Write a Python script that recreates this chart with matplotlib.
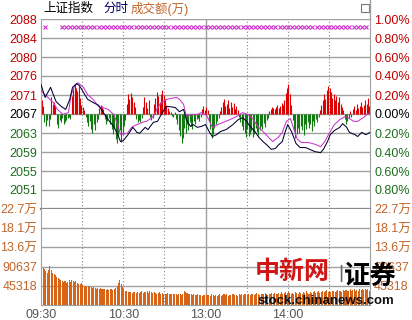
import matplotlib
matplotlib.use("Agg")
import matplotlib.pyplot as plt

plt.rcParams['font.family'] = ['Liberation Sans', 'Noto Sans CJK SC']

# previous close and price axis
prev_close = 2067.3
pct_ticks = [-0.8, -0.6, -0.4, -0.2, 0.0, 0.2, 0.4, 0.6, 0.8, 1.0]

# index line (minute, price)
idx_min = [0, 3, 5, 7, 9, 11, 15, 18, 21, 23, 26, 28, 32, 34, 38, 42, 45, 49, 53, 56, 58, 60, 63, 65,
           67, 70, 72, 76, 78, 82, 85, 87, 89, 91, 94, 98, 101, 104, 106, 109, 111, 114, 117, 120,
           123, 125, 128, 131, 135, 140, 144, 147, 150, 152, 156, 159, 162, 165, 168, 171, 173,
           176, 178, 180, 183, 186, 189, 193, 196, 200, 204, 206, 209, 211, 214, 218, 220, 223,
           225, 229, 231, 234, 237, 240]
idx_val = [2073.7, 2070.9, 2072.0, 2073.1, 2071.5, 2070.0, 2068.9, 2068.3, 2070.5, 2073.1, 2073.9,
           2073.5, 2071.5, 2070.5, 2069.8, 2069.2, 2067.8, 2066.1, 2064.6, 2062.8, 2061.3, 2061.5,
           2062.6, 2063.5, 2064.4, 2063.3, 2063.1, 2064.4, 2063.9, 2065.5, 2065.7, 2066.8, 2067.8,
           2068.9, 2068.9, 2068.7, 2067.8, 2068.3, 2066.1, 2064.6, 2065.0, 2064.4, 2064.6, 2065.0,
           2063.3, 2062.4, 2062.8, 2063.5, 2063.9, 2065.0, 2066.1, 2066.5, 2065.7, 2064.8, 2063.5,
           2062.2, 2061.3, 2060.5, 2059.6, 2059.8, 2060.5, 2061.3, 2063.3, 2065.0, 2063.3, 2060.9,
           2060.0, 2060.0, 2059.6, 2059.1, 2058.9, 2059.6, 2061.3, 2062.8, 2063.7, 2064.4, 2065.2,
           2064.4, 2063.3, 2062.8, 2062.4, 2063.3, 2062.8, 2063.3]

# unweighted index line (minute, price)
lead_min = [0, 5, 9, 12, 16, 20, 22, 25, 27, 31, 34, 38, 42, 45, 49, 53, 56, 58, 63, 66, 70, 74, 77,
            81, 83, 85, 88, 92, 95, 99, 101, 104, 106, 110, 114, 117, 121, 125, 129, 133, 138, 143,
            147, 151, 155, 158, 162, 166, 169, 173, 176, 179, 182, 184, 187, 190, 195, 200, 204,
            207, 211, 214, 218, 222, 224, 228, 231, 235, 238, 240]
lead_val = [2072.4, 2070.9, 2069.8, 2068.3, 2067.2, 2067.6, 2071.5, 2073.7, 2074.1, 2073.1, 2071.5,
            2070.5, 2068.9, 2068.7, 2068.3, 2067.2, 2065.0, 2062.8, 2063.1, 2064.4, 2065.0, 2065.5,
            2065.7, 2066.5, 2067.2, 2068.7, 2069.8, 2070.5, 2070.7, 2070.9, 2070.5, 2069.4, 2066.8,
            2067.2, 2067.2, 2067.6, 2066.9, 2064.4, 2065.0, 2065.5, 2066.1, 2066.8, 2067.6, 2067.2,
            2066.1, 2064.6, 2063.5, 2062.2, 2061.3, 2062.2, 2063.3, 2065.7, 2066.3, 2064.4, 2061.8,
            2061.1, 2061.1, 2060.7, 2060.2, 2061.3, 2063.5, 2065.0, 2066.1, 2066.8, 2066.5, 2065.7,
            2065.7, 2066.5, 2067.2, 2067.4]

# buy/sell strength bars, one per minute (index points off the previous close)
strength = [
    3.0, 1.8, -1.8, -2.6, -1.3, -2.6, -1.1, 3.7, 2.2, 2.6, 1.7, -2.2, -3.0, -1.3, -1.7,
    -0.9, -2.2, -1.7, -1.3, -0.9, -0.7, -1.1, 4.0, 5.6, 6.5, 5.7, 5.0, 6.0, 3.5, 2.0,
    1.5, 0.8, -0.6, -1.7, -2.6, -1.5, -3.3, -4.1, -2.2, -3.5, -1.7, -1.0, 1.3, 2.0, 1.7,
    1.1, -1.1, -2.2, -1.5, -0.9, -2.2, -3.3, -4.4, -3.0, -5.4, -6.3, -4.8, -3.5, -6.1, -4.4,
    -2.6, -1.3, 2.2, 4.4, 3.3, 4.6, 3.7, 2.6, 1.5, -1.1, -1.7, -1.3, -1.7, -0.9, 1.5,
    3.7, 2.6, 1.3, 3.0, -0.7, -1.3, -0.9, 2.2, 3.5, 4.8, 3.9, 2.6, 4.4, 5.2, 4.1,
    3.3, 2.0, 1.3, 0.7, 0.4, -0.4, -0.7, 0.4, -1.1, -2.2, -3.5, -4.8, -6.3, -5.2, -3.0,
    -4.1, -2.2, -3.5, -1.7, -2.6, -3.3, -1.5, -2.2, -1.1, -0.9, -1.5, -0.7, 1.1, 1.7, 0.9,
    1.5, 0.9, -1.5, -3.3, -5.2, -4.4, -3.0, -2.2, -1.5, -0.9, 0.7, 1.5, 2.6, 3.3, 1.7,
    2.2, 3.0, 1.3, 2.6, 1.5, 2.4, 1.1, 1.7, 0.9, -0.7, -1.7, -2.6, -3.5, -4.1, -5.0,
    -3.3, -4.8, -4.4, -3.7, -5.0, -4.4, -3.0, -3.9, -4.6, -3.5, -2.6, -3.3, -2.0, -2.8, -1.3,
    -0.9, 0.7, 1.1, 1.5, 1.3, 1.1, 1.5, 2.0, 1.3, 1.7, 2.4, 2.0, 3.0, 4.6, 5.7,
    6.5, 4.4, 2.0, -1.3, -3.5, -5.2, -4.4, -3.0, -4.1, -2.6, -3.5, -4.6, -2.2, -3.3, -1.7,
    -3.0, -2.2, -3.7, -1.5, -2.6, -1.1, -1.7, -0.7, 0.9, 2.0, 3.0, 4.4, 3.3, 5.2, 6.1,
    5.7, 4.8, 3.5, 4.4, 3.0, 3.9, 2.6, 3.7, 2.2, 1.5, 0.9, -1.1, -2.2, -1.5, -0.9,
    0.7, -0.7, 1.1, 1.7, 0.9, 2.2, 1.3, 1.7, 2.6, 1.5, 2.0, 3.0, 2.2, 3.5, 1.7,
]

# turnover per minute, in 万
volume = [
    22.7, 8.8, 8.6, 8.0, 7.5, 8.3, 9.3, 8.2, 7.6, 7.3, 7.0, 6.6, 6.4, 6.1, 5.8,
    5.6, 5.4, 5.7, 5.3, 5.5, 5.8, 5.5, 5.9, 5.6, 5.4, 5.7, 5.2, 5.0, 4.9, 5.1,
    4.7, 4.5, 4.6, 4.3, 4.4, 4.6, 4.2, 4.0, 4.3, 4.1, 3.9, 4.0, 3.8, 4.1, 3.9,
    3.7, 3.8, 3.6, 3.9, 3.5, 3.7, 3.8, 3.6, 3.9, 4.1, 4.6, 5.2, 5.9, 5.0, 4.2,
    3.8, 3.4, 3.2, 3.1, 3.0, 3.1, 2.9, 3.0, 3.1, 2.9, 3.0, 2.8, 3.0, 3.2, 2.9,
    3.1, 3.0, 3.3, 2.9, 3.4, 3.0, 2.8, 3.0, 2.9, 2.7, 2.8, 3.0, 2.7, 2.8, 2.6,
    2.7, 2.6, 2.8, 2.5, 2.7, 2.6, 2.5, 2.7, 2.6, 2.4, 2.6, 2.5, 2.4, 2.6, 3.2,
    3.0, 2.8, 2.7, 2.5, 2.6, 2.4, 2.5, 2.3, 2.4, 2.6, 2.3, 2.4, 2.2, 2.3, 2.4,
    2.6, 2.3, 2.4, 2.2, 2.5, 2.3, 2.1, 2.4, 2.2, 2.3, 2.5, 2.2, 2.4, 2.6, 2.3,
    2.5, 2.2, 2.4, 2.3, 2.6, 2.5, 2.3, 2.4, 2.2, 2.5, 2.3, 2.6, 2.4, 2.7, 2.5,
    2.4, 2.6, 2.3, 2.5, 2.7, 2.4, 2.6, 2.8, 2.5, 2.4, 2.6, 2.7, 2.5, 2.8, 2.6,
    2.4, 2.7, 2.5, 2.8, 2.6, 2.9, 2.7, 2.5, 2.8, 2.6, 3.0, 2.7, 2.9, 3.1, 2.8,
    3.0, 2.8, 2.7, 2.9, 2.6, 3.0, 2.8, 2.7, 3.1, 2.9, 2.7, 3.0, 2.8, 3.2, 2.9,
    2.7, 3.0, 2.8, 3.1, 3.3, 2.9, 3.0, 3.2, 2.8, 3.1, 3.4, 3.0, 3.2, 3.5, 3.1,
    3.3, 3.0, 3.2, 3.4, 3.1, 3.3, 3.6, 3.2, 3.4, 3.1, 3.5, 3.3, 3.6, 3.2, 3.4,
    3.7, 3.3, 3.5, 3.8, 3.4, 3.6, 3.3, 3.7, 3.5, 3.8, 3.6, 3.9, 3.5, 3.7, 3.4,
]
vol_ticks = [45318, 90637, 136000, 181000, 227000]
vol_labels = ['45318', '90637', '13.6万', '18.1万', '22.7万']

# the pink x row near the top
marker_min = [3] + list(range(15, 240, 3))

time_ticks = [0, 60, 120, 180]
time_labels = ['09:30', '10:30', '13:00', '14:00']

RED = '#c00000'
GREEN = '#1e6e1e'
ORANGE = '#c0652a'
GRID = '#a0a0a0'

fig = plt.figure(figsize=(4.12, 3.2), dpi=100)
ax = fig.add_axes([41 / 412, 1 - 209 / 320, 329 / 412, 190 / 320])
axv = fig.add_axes([41 / 412, 1 - 305 / 320, 329 / 412, 96 / 320])

# ---- price panel
lo = prev_close * 0.99
hi = prev_close * 1.01
ax.set_xlim(0, 240)
ax.set_ylim(lo, hi)
for p in pct_ticks:
    ax.axhline(prev_close * (1 + p / 100), color=GRID, lw=1.0, zorder=1)
for m in [30, 60, 90, 150, 180, 210]:
    ax.axvline(m, color='#888888', lw=0.8, ls=(0, (1, 2)), zorder=1)
ax.axvline(120, color=GRID, lw=1.0, zorder=1)

for i, s in enumerate(strength):
    c = '#dd0000' if s > 0 else '#137a13'
    ax.vlines(i + 0.5, prev_close, prev_close + s, color=c, lw=0.8, zorder=2)

ax.plot(lead_min, lead_val, color='#cc33cc', lw=0.75, zorder=3)
ax.plot(idx_min, idx_val, color='#000033', lw=0.75, zorder=4)
ax.plot(marker_min, [prev_close * 1.0092] * len(marker_min), ls='none', marker='x',
        ms=3, mew=0.8, color='#cc33cc', zorder=4)

ticks = [prev_close * (1 + p / 100) for p in pct_ticks]
ax.set_yticks(ticks)
ax.set_yticklabels([f'{t:.0f}' for t in ticks], fontsize=9)
ax.set_xticks([])
ax.tick_params(axis='y', length=0, pad=3)
for lab, p in zip(ax.get_yticklabels(), pct_ticks):
    lab.set_color(RED if p > 0 else (GREEN if p < 0 else 'black'))

axr = ax.twinx()
axr.set_ylim(lo, hi)
axr.set_yticks(ticks)
axr.set_yticklabels([f'{abs(p):.2f}%' for p in pct_ticks], fontsize=9)
axr.tick_params(axis='y', length=0, pad=3)
for lab, p in zip(axr.get_yticklabels(), pct_ticks):
    lab.set_color(RED if p > 0 else (GREEN if p < 0 else 'black'))

for a in (ax, axr):
    for sp in a.spines.values():
        sp.set_visible(False)
ax.spines['left'].set_visible(True)
ax.spines['left'].set_color(GRID)
ax.spines['right'].set_visible(True)
ax.spines['right'].set_color(GRID)
ax.spines['bottom'].set_visible(True)
ax.spines['bottom'].set_color('#888888')
ax.spines['bottom'].set_linewidth(1.6)

# ---- volume panel
axv.set_xlim(0, 240)
axv.set_ylim(0, 226592)
for v in vol_ticks[:-1]:
    axv.axhline(v, color=GRID, lw=1.0, zorder=1)
for m in [30, 60, 90, 150, 180, 210]:
    axv.axvline(m, color='#888888', lw=0.8, ls=(0, (1, 2)), zorder=1)
axv.axvline(120, color=GRID, lw=1.0, zorder=1)
axv.bar([i + 0.5 for i in range(len(volume))], [v * 10000 for v in volume], width=0.75,
        color='#d86418', lw=0, zorder=2)
axv.set_yticks(vol_ticks)
axv.set_yticklabels(vol_labels, fontsize=9, color=ORANGE)
axv.set_xticks(time_ticks)
axv.set_xticklabels(time_labels, fontsize=9, color='#555555')
axv.tick_params(length=0, pad=3)
axvr = axv.twinx()
axvr.set_ylim(0, 226592)
axvr.set_yticks(vol_ticks)
axvr.set_yticklabels(vol_labels, fontsize=9, color=ORANGE)
axvr.tick_params(length=0, pad=3)
for a in (axv, axvr):
    for sp in a.spines.values():
        sp.set_visible(False)
for side in ['left', 'right', 'bottom']:
    axv.spines[side].set_visible(True)
    axv.spines[side].set_color(GRID)

# ---- header
fig.text(43 / 412, 1 - 9 / 320, '上证指数', fontsize=9, color='black', va='center')
fig.text(103 / 412, 1 - 9 / 320, '分时', fontsize=9, color='#000066', va='center')
fig.text(131 / 412, 1 - 9 / 320, '成交额(万)', fontsize=9, color=ORANGE, va='center')
fig.add_artist(plt.Line2D([370 / 412, 370 / 412], [1 - 19 / 320, 1.0], color=GRID, lw=1))
fig.add_artist(plt.Rectangle((361 / 412, 1 - 12 / 320), 8 / 412, 8 / 320, fill=False,
                             edgecolor='#777777', lw=0.8))

# ---- watermark (sits over the right-hand labels, as in the source)
fig.text(255 / 412, 1 - 272 / 320, '中新网', fontsize=18, color='#d01515',
         fontweight='bold', va='center', family=['Noto Sans CJK SC'])
fig.text(338 / 412, 1 - 274 / 320, '|', fontsize=14, color='#666666', va='center')
fig.text(344 / 412, 1 - 276 / 320, '证券', fontsize=19, color='black',
         fontweight='bold', va='center', family=['Noto Sans CJK SC'])
fig.text(258 / 412, 1 - 301 / 320, 'stock.chinanews.com', fontsize=9.5, color='#111111',
         fontweight='bold', va='center')

fig.savefig('out.png', dpi=100, facecolor='white')
